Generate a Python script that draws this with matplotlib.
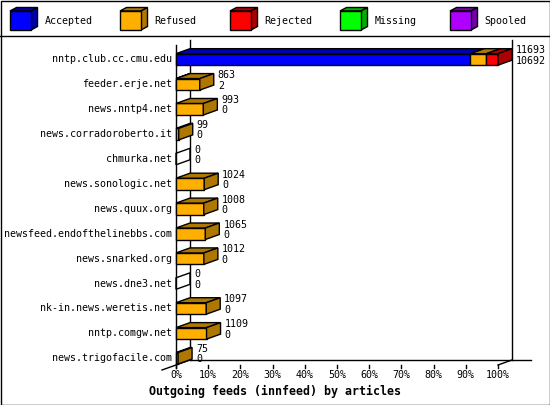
import matplotlib
matplotlib.use("Agg")
import matplotlib.pyplot as plt
from matplotlib.patches import Polygon, Rectangle

# ---------------- data ----------------
feeds = ["nntp.club.cc.cmu.edu", "feeder.erje.net", "news.nntp4.net",
         "news.corradoroberto.it", "chmurka.net", "news.sonologic.net",
         "news.quux.org", "newsfeed.endofthelinebbs.com", "news.snarked.org",
         "news.dne3.net", "nk-in.news.weretis.net", "nntp.comgw.net",
         "news.trigofacile.com"]
offered  = [11693, 863, 993, 99, 0, 1024, 1008, 1065, 1012, 0, 1097, 1109, 75]
accepted = [10692, 2, 0, 0, 0, 0, 0, 0, 0, 0, 0, 0, 0]
refused  = [580, 861, 993, 99, 0, 1024, 1008, 1065, 1012, 0, 1097, 1109, 75]
rejected = [421, 0, 0, 0, 0, 0, 0, 0, 0, 0, 0, 0, 0]
missing  = [0] * 13
spooled  = [0] * 13

series_names = ["Accepted", "Refused", "Rejected", "Missing", "Spooled"]
series_vals = [accepted, refused, rejected, missing, spooled]
front_cols = ["#0000FF", "#FFAF00", "#FF0000", "#00FF00", "#AF00FF"]
side_cols = ["#0000AD", "#AD7700", "#AD0000", "#00AD00", "#7700AD"]

tick_vals = list(range(0, 101, 10))
tick_labels = [f"{v}%" for v in tick_vals]
title = "Outgoing feeds (innfeed) by articles"

# ---------------- layout ----------------
W, H = 550, 405
fig = plt.figure(figsize=(W / 100, H / 100), dpi=100)
FONT = "DejaVu Sans Mono"
FS = 7.2

def fx(x):
    return x / W

def fy(y):
    return 1 - y / H

# full-figure overlay in pixel coordinates (frame + legend)
pax = fig.add_axes([0, 0, 1, 1])
pax.set_xlim(0, W)
pax.set_ylim(H, 0)
pax.axis("off")
pax.add_patch(Rectangle((0.5, 0.5), W - 1, H - 1, fill=False, edgecolor="black", lw=1))
pax.plot([0, W], [35.5, 35.5], color="black", lw=1)

# legend cubes
for k, name in enumerate(series_names):
    x0 = 10 + 110 * k
    fw, fh, ddx, ddy = 21, 19, 6.5, 3.5
    y0 = 11
    pax.add_patch(Polygon([(x0, y0), (x0 + fw, y0), (x0 + fw + ddx, y0 - ddy), (x0 + ddx, y0 - ddy)],
                          closed=True, facecolor=side_cols[k], edgecolor="black", lw=1))
    pax.add_patch(Polygon([(x0 + fw, y0), (x0 + fw, y0 + fh), (x0 + fw + ddx, y0 + fh - ddy), (x0 + fw + ddx, y0 - ddy)],
                          closed=True, facecolor=side_cols[k], edgecolor="black", lw=1))
    pax.add_patch(Rectangle((x0, y0), fw, fh, facecolor=front_cols[k], edgecolor="black", lw=1))
    pax.text(x0 + 34.5, 21, name, ha="left", va="center", family=FONT, fontsize=FS)

# main axes: front plane, 0..100 % horizontally, rows vertically
X0, X1, YT, YB = 176, 498, 40, 365
ax = fig.add_axes([fx(X0), fy(YB), (X1 - X0) / W, (YB - YT) / H])
ax.set_xlim(0, 100)
ROW_TOP, ROW_BOT = -0.78, 12.27
ax.set_ylim(ROW_BOT, ROW_TOP)
ax.axis("off")

PX_X = (X1 - X0) / 100.0
PX_Y = (YB - YT) / (ROW_BOT - ROW_TOP)
dxu = 14 / PX_X
dyu = 5 / PX_Y
h = 11.5 / PX_Y

kw = dict(color="black", lw=1, clip_on=False)
# frame
ax.plot([0, 0], [ROW_TOP + dyu, ROW_BOT + 3 / PX_Y], **kw)
ax.plot([dxu, dxu], [ROW_TOP, ROW_BOT - dyu], **kw)
ax.plot([100 + dxu, 100 + dxu], [ROW_TOP, ROW_BOT - dyu], **kw)
ax.plot([dxu, 100 + dxu + 19 / PX_X], [ROW_BOT - dyu, ROW_BOT - dyu], **kw)
ax.plot([dxu, -dxu], [ROW_BOT - dyu, ROW_BOT + dyu], **kw)
ax.plot([100 + dxu, 100], [ROW_BOT - dyu, ROW_BOT], **kw)
for v, lab in zip(tick_vals, tick_labels):
    ax.plot([v, v], [ROW_BOT, ROW_BOT + 3 / PX_Y], **kw)
    ax.text(v, ROW_BOT + 10 / PX_Y, lab, ha="center", va="center", family=FONT, fontsize=FS, clip_on=False)

vmax = max(offered)
for i, feed in enumerate(feeds):
    top, bot = i - h / 2, i + h / 2
    left = 0.0
    last_k = None
    for k in range(len(series_names)):
        val = series_vals[k][i]
        if val <= 0:
            continue
        w = val / vmax * 100
        ax.barh(i, w, left=left, height=h, color=front_cols[k], edgecolor="black", lw=1, clip_on=False, zorder=3)
        ax.add_patch(Polygon([(left, top), (left + w, top), (left + w + dxu, top - dyu), (left + dxu, top - dyu)],
                             closed=True, facecolor=side_cols[k], edgecolor="black", lw=1, clip_on=False, zorder=3))
        left += w
        last_k = k
    if last_k is not None:
        ax.add_patch(Polygon([(left, top), (left, bot), (left + dxu, bot - dyu), (left + dxu, top - dyu)],
                             closed=True, facecolor=side_cols[last_k], edgecolor="black", lw=1, clip_on=False, zorder=3))
    else:
        ax.add_patch(Polygon([(0, top), (0, bot), (dxu, bot - dyu), (dxu, top - dyu)],
                             closed=True, fill=False, edgecolor="black", lw=1, clip_on=False, zorder=3))
    end = offered[i] / vmax * 100
    ax.text(end + dxu + 4 / PX_X, i - 9.2 / PX_Y, str(offered[i]), ha="left", va="center",
            family=FONT, fontsize=FS, clip_on=False)
    ax.text(end + dxu + 4 / PX_X, i + 1.2 / PX_Y, str(accepted[i]), ha="left", va="center",
            family=FONT, fontsize=FS, clip_on=False)
    ax.text(-4 / PX_X, i, feed, ha="right", va="center", family=FONT, fontsize=FS, clip_on=False)

fig.text(0.5, fy(391), title, ha="center", va="center", family=FONT, fontsize=8.4, fontweight="bold")

fig.savefig("out.png", dpi=100)
